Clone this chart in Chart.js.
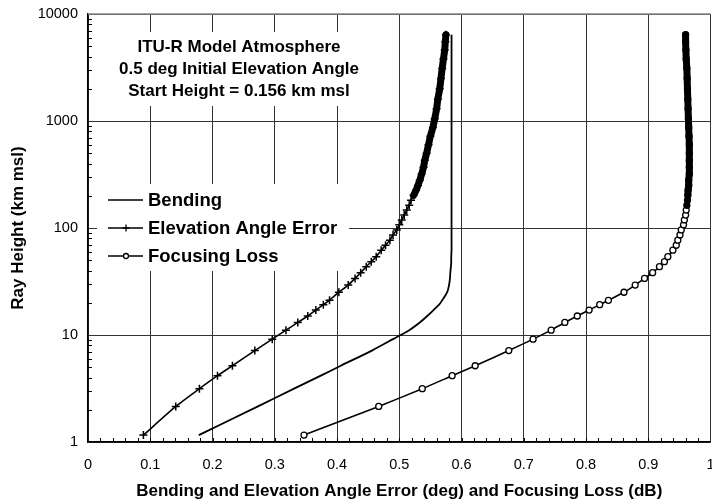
<!DOCTYPE html>
<html>
<head>
<meta charset="utf-8">
<script src="https://cdn.jsdelivr.net/npm/chart.js@4.4.1/dist/chart.umd.min.js"></script>
<style>
  html, body { margin: 0; padding: 0; background: #fff; overflow: hidden; }
  #wrap { position: relative; width: 716px; height: 504px; }
</style>
</head>
<body>
<div id="wrap"><canvas id="myChart"></canvas></div>
<script>
// ray height (km msl) at each trace step, shared by the three curves
const heights = [1.16, 2.15, 3.15, 4.17, 5.16, 7.15, 9.15, 11.1, 13.1, 15.05, 17.1, 19.2, 21.1, 25.1, 29.3,
  33.8, 38.2, 43.5, 48.4, 54, 62, 69, 77, 86, 96, 107, 119, 132, 147, 163, 182, 202, 225, 250, 280,
  320, 370, 430, 500, 600, 720, 870, 1050, 1300, 1600, 2000, 2500, 3100, 3800, 4600, 5500, 6400];
const bending = [0.178, 0.273, 0.331, 0.374, 0.406, 0.456, 0.490, 0.516, 0.533, 0.545, 0.555, 0.564, 0.569, 0.577, 0.580,
  0.5815, 0.582, 0.583, 0.5835, 0.5835, 0.584, 0.584, 0.584, 0.584, 0.584, 0.584, 0.584, 0.584, 0.584, 0.584, 0.584, 0.584, 0.584, 0.584, 0.584,
  0.584, 0.584, 0.584, 0.584, 0.584, 0.584, 0.584, 0.584, 0.584, 0.584, 0.584, 0.584, 0.584, 0.584, 0.584, 0.584, 0.584];
const elevError = [0.089, 0.141, 0.179, 0.208, 0.232, 0.268, 0.296, 0.318, 0.337, 0.353, 0.366, 0.378, 0.388, 0.403, 0.418,
  0.429, 0.438, 0.447, 0.455, 0.463, 0.471, 0.478, 0.485, 0.490, 0.496, 0.500, 0.504, 0.508, 0.512, 0.516, 0.519, 0.523, 0.527, 0.530, 0.533,
  0.536, 0.539, 0.541, 0.544, 0.547, 0.550, 0.554, 0.557, 0.560, 0.562, 0.565, 0.567, 0.569, 0.571, 0.573, 0.574, 0.575];
const focusLoss = [0.347, 0.467, 0.537, 0.585, 0.622, 0.676, 0.715, 0.744, 0.766, 0.786, 0.805, 0.822, 0.836, 0.861, 0.879,
  0.894, 0.907, 0.918, 0.926, 0.9315, 0.9396, 0.945, 0.9475, 0.951, 0.953, 0.9567, 0.958, 0.960, 0.961, 0.962, 0.963, 0.9636, 0.964, 0.965, 0.965,
  0.966, 0.966, 0.966, 0.966, 0.966, 0.9655, 0.965, 0.9645, 0.964, 0.9635, 0.963, 0.9625, 0.962, 0.961, 0.9605, 0.960, 0.960];

const yTicks = [1, 10, 100, 1000, 10000];
const seriesNames = ["Bending", "Elevation Angle Error", "Focusing Loss"];
const noteLines = ["ITU-R Model Atmosphere", "0.5 deg Initial Elevation Angle", "Start Height = 0.156 km msl"];
const xTitle = "Bending and Elevation Angle Error (deg) and Focusing Loss (dB)";
const yTitle = "Ray Height (km msl)";

const FONT = "'Liberation Sans', Arial, Helvetica, sans-serif";
const cxt = document.querySelector("#myChart");

function toPoints(xs) {
  return xs.map((x, i) => ({ x: x, y: heights[i] }));
}

// thick line where the markers pile up into a solid band
function denseWidth(ctx) {
  return heights[ctx.p0DataIndex] >= 200 ? 7 : 1.6;
}

const overlay = {
  id: "overlay",
  beforeDatasetsDraw(chart) {
    const { ctx, chartArea: a, scales } = chart;
    ctx.save();
    // top border
    ctx.strokeStyle = "#888";
    ctx.lineWidth = 1.5;
    ctx.beginPath();
    ctx.moveTo(a.left, a.top);
    ctx.lineTo(a.right, a.top);
    ctx.stroke();

    // minor ticks
    ctx.strokeStyle = "#000";
    ctx.lineWidth = 1;
    for (let d = 1; d < 10000; d *= 10) {
      for (let k = 2; k <= 9; k++) {
        const py = Math.round(scales.y.getPixelForValue(d * k)) + 0.5;
        ctx.beginPath();
        ctx.moveTo(a.left, py);
        ctx.lineTo(a.left + 4, py);
        ctx.stroke();
      }
    }
    for (let i = 1; i < 50; i++) {
      const px = Math.round(scales.x.getPixelForValue(i * 0.02)) + 0.5;
      ctx.beginPath();
      ctx.moveTo(px, a.bottom);
      ctx.lineTo(px, a.bottom - 4);
      ctx.stroke();
    }

    // white boxes behind the note and the legend
    ctx.fillStyle = "#fff";
    ctx.fillRect(a.left + 22, a.top + 18, 266, 74);
    ctx.fillRect(a.left + 9, a.top + 170, 252, 87);

    // note text
    ctx.fillStyle = "#000";
    ctx.font = "bold 17px " + FONT;
    ctx.textAlign = "center";
    ctx.textBaseline = "middle";
    noteLines.forEach((t, i) => ctx.fillText(t, a.left + 151, a.top + 33 + i * 22));

    // legend
    ctx.font = "bold 18.5px " + FONT;
    ctx.textAlign = "left";
    chart.data.datasets.forEach((ds, i) => {
      const ly = a.top + 186 + i * 28;
      ctx.strokeStyle = "#000";
      ctx.lineWidth = 1.6;
      ctx.beginPath();
      ctx.moveTo(a.left + 20, ly);
      ctx.lineTo(a.left + 55, ly);
      ctx.stroke();
      if (ds.pointStyle !== false) {
        ctx.fillStyle = "#fff";
        ctx.lineWidth = 1.3;
        Chart.helpers.drawPoint(ctx, { pointStyle: ds.pointStyle, radius: ds.pointStyle === "cross" ? 3.5 : 2.5, rotation: 0, borderWidth: 1.3 }, a.left + 38, ly);
      }
      ctx.fillStyle = "#000";
      ctx.fillText(ds.label, a.left + 60, ly + 1);
    });
    ctx.restore();
  }
};

const config = {
  type: "line",
  data: {
    datasets: [
      {
        label: seriesNames[0],
        data: toPoints(bending),
        borderColor: "#000",
        borderWidth: 1.8,
        pointStyle: false,
        pointRadius: 0,
        tension: 0.3,
      },
      {
        label: seriesNames[1],
        data: toPoints(elevError),
        borderColor: "#000",
        borderWidth: 1.6,
        borderCapStyle: "round",
        segment: { borderWidth: denseWidth },
        pointStyle: "cross",
        pointRadius: 4,
        pointBorderWidth: 1.5,
        pointBorderColor: "#000",
        tension: 0.2,
      },
      {
        label: seriesNames[2],
        data: toPoints(focusLoss),
        borderColor: "#000",
        borderWidth: 1.6,
        borderCapStyle: "round",
        segment: { borderWidth: denseWidth },
        pointStyle: "circle",
        pointRadius: 3,
        pointBorderWidth: 1.3,
        pointBorderColor: "#000",
        pointBackgroundColor: (ctx) => (heights[ctx.dataIndex] >= 150 ? "#000" : "#fff"),
        tension: 0.2,
      },
    ],
  },
  options: {
    responsive: true,
    maintainAspectRatio: false,
    animation: false,
    layout: { padding: { top: 14, left: 0, right: 0, bottom: 0 } },
    plugins: {
      legend: { display: false },
      tooltip: { enabled: false },
    },
    scales: {
      x: {
        type: "linear",
        min: 0,
        max: 1,
        afterFit: (s) => { s.height = 62; s.paddingLeft = 0; s.paddingRight = 3; },
        ticks: {
          stepSize: 0.1,
          padding: 14,
          color: "#000",
          font: { family: FONT, size: 14.5 },
          callback: (v) => (Math.abs(v) < 1e-9 ? "0" : Math.abs(v - 1) < 1e-9 ? "1" : v.toFixed(1)),
        },
        grid: { color: "#333", lineWidth: 1, drawTicks: false },
        border: { color: "#000", width: 1.5 },
        title: { display: true, text: xTitle, color: "#000", padding: { top: 0, bottom: 2 }, font: { family: FONT, size: 17, weight: "bold" } },
      },
      y: {
        type: "logarithmic",
        min: 1,
        max: 10000,
        afterFit: (s) => { s.width = 88; s.paddingTop = 0; s.paddingBottom = 0; },
        afterBuildTicks: (s) => { s.ticks = yTicks.map((v) => ({ value: v })); },
        ticks: { padding: 10, color: "#000", font: { family: FONT, size: 14.5 }, callback: (v) => String(v) },
        grid: { color: "#333", lineWidth: 1, drawTicks: false },
        border: { color: "#000", width: 1.5 },
        title: { display: true, text: yTitle, color: "#000", padding: { top: 8, bottom: 0 }, font: { family: FONT, size: 17, weight: "bold" } },
      },
    },
  },
  plugins: [overlay],
};

new Chart(cxt, config);
</script>
</body>
</html>
